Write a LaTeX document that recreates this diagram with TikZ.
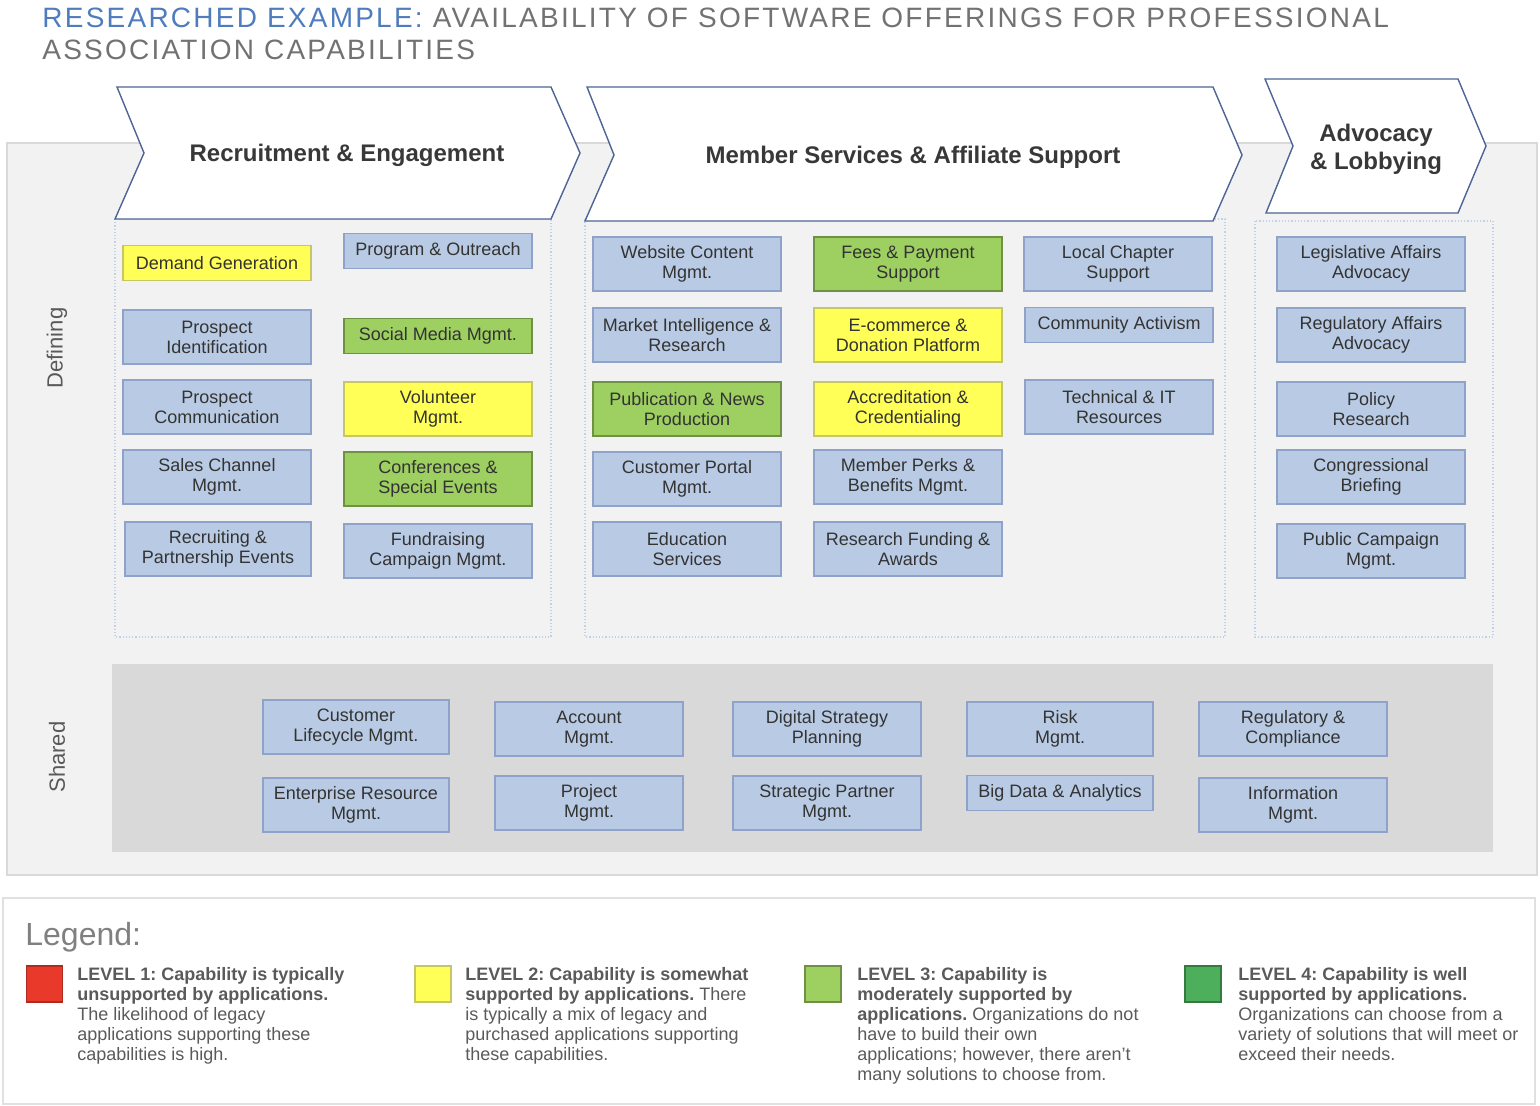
\documentclass[tikz,border=0pt]{standalone}
\usepackage{fontspec}
\setmainfont{Liberation Sans}
\newfontfamily\titlefont[LetterSpace=8]{Liberation Sans}
\usepackage{xcolor}
\frenchspacing
\definecolor{titleblue}{HTML}{4F7CBC}
\definecolor{titlegray}{HTML}{727272}
\definecolor{panelgray}{HTML}{F2F2F2}
\definecolor{paneledge}{HTML}{D9D9D9}
\definecolor{shareGray}{HTML}{D9D9D9}
\definecolor{dotedge}{HTML}{C0D0EA}
\definecolor{chevedge}{HTML}{4E6496}
\definecolor{capblue}{HTML}{B9CBE4}
\definecolor{capedge}{HTML}{8FA3CA}
\definecolor{captext}{HTML}{333333}
\definecolor{lvlred}{HTML}{E8392A}
\definecolor{lvlyellow}{HTML}{FFFF57}
\definecolor{lvlgreen}{HTML}{9DCF61}
\definecolor{lvldark}{HTML}{4DAE5B}
\definecolor{legendtext}{HTML}{5A5A5A}
\usetikzlibrary{positioning}

\begin{document}
\begin{tikzpicture}[x=0.5pt,y=-0.5pt,
  capbox/.style={draw=capedge,fill=capblue,text=captext,line width=0.6pt,
    minimum width=94pt,minimum height=27pt,inner sep=1pt,align=center,
    font=\fontsize{9}{10}\selectfont},
  onerow/.style={minimum height=17.5pt},
  yel/.style={fill=lvlyellow,draw=lvlyellow!55!gray},
  grn/.style={fill=lvlgreen,draw=lvlgreen!70!black},
  chevron/.style={fill=white,draw=chevedge,line width=0.7pt},
  headtext/.style={font=\bfseries\fontsize{12}{14}\selectfont,text=black!78,align=center},
  lvlsquare/.style={minimum size=18pt,inner sep=0pt,line width=0.6pt},
  lvltext/.style={anchor=north west,inner sep=0pt,align=left,text=legendtext,
    font=\fontsize{9}{10}\selectfont}]
\useasboundingbox (0,0) rectangle (1540,1106);

% title
\node[anchor=base west,inner sep=0pt,font=\titlefont\fontsize{14}{16}\selectfont,text=titlegray] (title1) at (42,28)
  {\textcolor{titleblue}{RESEARCHED EXAMPLE:} AVAILABILITY OF SOFTWARE OFFERINGS FOR PROFESSIONAL};
\node[anchor=base west,inner sep=0pt,font=\titlefont\fontsize{14}{16}\selectfont,text=titlegray] (title2) at (42,60)
  {ASSOCIATION CAPABILITIES};

% background panels
\filldraw[fill=panelgray,draw=paneledge,line width=0.6pt] (7,143) rectangle (1537,875);
\filldraw[fill=panelgray,draw=dotedge,densely dotted,line width=0.6pt] (115,219) rectangle (551,637);
\filldraw[fill=panelgray,draw=dotedge,densely dotted,line width=0.6pt] (585,219) rectangle (1225,637);
\filldraw[fill=panelgray,draw=dotedge,densely dotted,line width=0.6pt] (1255,221) rectangle (1493,637);
\fill[shareGray] (112,664) rectangle (1493,852);

\node[rotate=90,font=\fontsize{11}{13}\selectfont,text=black!65] (defining) at (57,348) {Defining};
\node[rotate=90,font=\fontsize{11}{13}\selectfont,text=black!65] (shared) at (57,757) {Shared};

% chevrons
\filldraw[chevron] (117,87) -- (551,87) -- (580,153) -- (551,219) -- (115,219) -- (144,153) -- cycle;
\node[headtext] (recruithead) at (347,155) {Recruitment \& Engagement};
\filldraw[chevron] (587,87) -- (1213,87) -- (1242,155) -- (1213,221) -- (585,221) -- (614,155) -- cycle;
\node[headtext] (memberhead) at (913,157) {Member Services \& Affiliate Support};
\filldraw[chevron] (1265,79) -- (1458,79) -- (1486,146) -- (1458,213) -- (1266,213) -- (1293,146) -- cycle;
\node[headtext] (advohead) at (1376,149) {Advocacy\\\& Lobbying};

% recruitment & engagement
\node[capbox,onerow,yel] (demand) at (217,263) {Demand Generation};
\node[capbox] (prospid) at (217,337) {Prospect\\Identification};
\node[capbox] (prospcomm) at (217,407) {Prospect\\Communication};
\node[capbox] (sales) at (217,477) {Sales Channel\\Mgmt.};
\node[capbox,minimum width=93pt] (recruiting) at (218,549) {Recruiting \&\\Partnership Events};
\node[capbox,onerow] (program) at (438,251) {Program \& Outreach};
\node[capbox,onerow,grn] (social) at (438,336) {Social Media Mgmt.};
\node[capbox,yel] (volunteer) at (438,409) {Volunteer\\Mgmt.};
\node[capbox,grn] (conf) at (438,479) {Conferences \&\\Special Events};
\node[capbox] (fundraise) at (438,551) {Fundraising\\Campaign Mgmt.};

% member services & affiliate support
\node[capbox] (website) at (687,264) {Website Content\\Mgmt.};
\node[capbox] (market) at (687,335) {Market Intelligence \&\\Research};
\node[capbox,grn] (publication) at (687,409) {Publication \& News\\Production};
\node[capbox] (portal) at (687,479) {Customer Portal\\Mgmt.};
\node[capbox] (education) at (687,549) {Education\\Services};
\node[capbox,grn] (fees) at (908,264) {Fees \& Payment\\Support};
\node[capbox,yel] (ecommerce) at (908,335) {E-commerce \&\\Donation Platform};
\node[capbox,yel] (accred) at (908,409) {Accreditation \&\\Credentialing};
\node[capbox] (perks) at (908,477) {Member Perks \&\\Benefits Mgmt.};
\node[capbox] (resfund) at (908,549) {Research Funding \&\\Awards};
\node[capbox] (chapter) at (1118,264) {Local Chapter\\Support};
\node[capbox,onerow] (activism) at (1119,325) {Community Activism};
\node[capbox] (technical) at (1119,407) {Technical \& IT\\Resources};

% advocacy & lobbying
\node[capbox] (legis) at (1371,264) {Legislative Affairs\\Advocacy};
\node[capbox] (regaffairs) at (1371,335) {Regulatory Affairs\\Advocacy};
\node[capbox] (policy) at (1371,409) {Policy\\Research};
\node[capbox] (congress) at (1371,477) {Congressional\\Briefing};
\node[capbox] (pubcampaign) at (1371,551) {Public Campaign\\Mgmt.};

% shared
\node[capbox,minimum width=93pt] (lifecycle) at (356,727) {Customer\\Lifecycle Mgmt.};
\node[capbox] (account) at (589,729) {Account\\Mgmt.};
\node[capbox] (digital) at (827,729) {Digital Strategy\\Planning};
\node[capbox,minimum width=93pt] (risk) at (1060,729) {Risk\\Mgmt.};
\node[capbox] (regcomp) at (1293,729) {Regulatory \&\\Compliance};
\node[capbox,minimum width=93pt] (erp) at (356,805) {Enterprise Resource\\Mgmt.};
\node[capbox] (project) at (589,803) {Project\\Mgmt.};
\node[capbox] (partner) at (827,803) {Strategic Partner\\Mgmt.};
\node[capbox,onerow,minimum width=93pt] (bigdata) at (1060,793) {Big Data \& Analytics};
\node[capbox] (info) at (1293,805) {Information\\Mgmt.};

% legend
\draw[draw=black!12,line width=0.6pt] (3,898) rectangle (1535,1104);
\node[anchor=base west,inner sep=0pt,font=\fontsize{16}{18}\selectfont,text=black!50] (legend) at (25,945) {Legend:};
\node[lvlsquare,fill=lvlred,draw=lvlred!75!black] (lvlone) at (44.5,984) {};
\node[lvlsquare,fill=lvlyellow,draw=lvlyellow!55!gray] (lvltwo) at (433,984) {};
\node[lvlsquare,fill=lvlgreen,draw=lvlgreen!70!black] (lvlthree) at (823,984) {};
\node[lvlsquare,fill=lvldark,draw=lvldark!70!black] (lvlfour) at (1203,984) {};
\node[lvltext] (onetext) at (77,967) {\textbf{LEVEL 1: Capability is typically}\\\textbf{unsupported by applications.}\\The likelihood of legacy\\applications supporting these\\capabilities is high.};
\node[lvltext] (twotext) at (465,967) {\textbf{LEVEL 2: Capability is somewhat}\\\textbf{supported by applications.} There\\is typically a mix of legacy and\\purchased applications supporting\\these capabilities.};
\node[lvltext] (threetext) at (857,967) {\textbf{LEVEL 3: Capability is}\\\textbf{moderately supported by}\\\textbf{applications.} Organizations do not\\have to build their own\\applications; however, there aren’t\\many solutions to choose from.};
\node[lvltext] (fourtext) at (1238,967) {\textbf{LEVEL 4: Capability is well}\\\textbf{supported by applications.}\\Organizations can choose from a\\variety of solutions that will meet or\\exceed their needs.};
\end{tikzpicture}
\end{document}
